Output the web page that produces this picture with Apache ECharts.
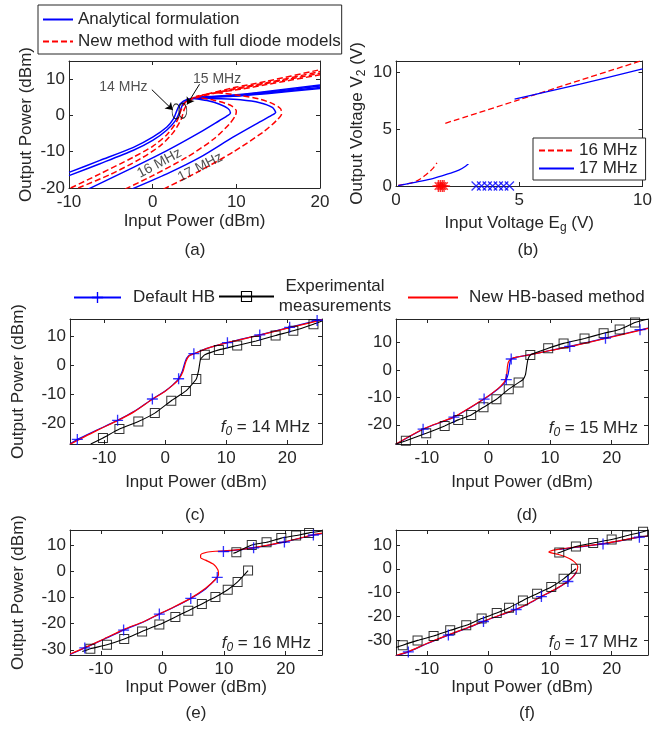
<!DOCTYPE html>
<html>
<head>
<meta charset="utf-8">
<script src="https://cdn.jsdelivr.net/npm/echarts@6/dist/echarts.min.js"></script>
<style>
  html, body { margin: 0; padding: 0; background: #fff; }
  #chart { width: 655px; height: 739px; }
</style>
</head>
<body>
<div id="chart"></div>
<script>
// ---------------- data ----------------
// (a) output vs input power, analytical formulation (solid) and full diode models (dashed)
const aAnalytic14 = [[-10,-15.7],[-6.3,-12.4],[-2.3,-8.8],[0,-6.0],[1.7,-3.2],[2.5,-0.9],[2.9,1.4],[3.3,3.2],[4.1,4.4],[5.7,4.9],[9.6,5.6],[13.6,6.6],[20,8.4]];
const aAnalytic15 = [[-10,-16.6],[-6.3,-13.3],[-2.3,-9.6],[0,-6.9],[1.7,-4.0],[2.7,-1.5],[3.2,0.8],[3.6,3.0],[4.3,4.3],[5.8,4.8],[9.6,5.4],[13.6,6.4],[20,8.1]];
const aAnalytic16 = [[-7.7,-20.3],[-2.3,-14.3],[1.7,-9.7],[5.7,-4.6],[8.0,-1.4],[9.0,0],[9.3,0.7],[9.0,1.9],[8.0,3.1],[6.5,4.1],[5.2,4.6],[4.9,4.8],[5.4,5.0],[7,5.2],[9.6,5.4],[13.6,6.2],[20,7.7]];
const aAnalytic17 = [[-2.5,-20.3],[1.7,-16.1],[5.7,-11.5],[9.6,-6.0],[12.8,-1.8],[14.2,0],[14.7,0.8],[14.3,2.2],[12.8,3.5],[10.5,4.3],[8,4.6],[5.5,4.75],[5.1,4.85],[5.6,5.0],[9.6,5.3],[13.6,6.0],[20,7.4]];
const aFull14 = [[-9.8,-20],[-6.3,-16.1],[-2.3,-11.5],[0,-8.5],[1.7,-5.3],[2.9,-1.6],[3.4,1.5],[3.9,3.6],[4.8,4.8],[6,5.6],[9.6,7.6],[13.6,9.4],[20,12.6]];
const aFull15 = [[-8.9,-20],[-5,-16.2],[-1.5,-12],[1,-8.2],[2.5,-4.6],[3.4,-1.1],[3.8,1.8],[4.4,3.9],[5.3,4.9],[6.5,5.6],[9.6,7.3],[13.6,9.0],[20,12.1]];
const aFull16 = [[-3.3,-20.3],[0,-16.6],[4.1,-11.5],[7.3,-6.5],[9.2,-2.3],[9.9,0],[10,1.2],[9.3,2.8],[7.3,4.2],[5.6,4.9],[5.2,5.2],[5.9,5.6],[9.6,7.1],[13.6,8.8],[20,11.6]];
const aFull17 = [[1.3,-20.3],[5.7,-15.2],[9.6,-10.1],[13.2,-4.6],[14.8,-1.4],[15.4,0.4],[15.3,1.8],[14.4,3.2],[12.8,4.5],[10.5,5.5],[8.5,6.1],[7.5,6.3],[8.5,6.6],[10.5,7.2],[13.6,8.5],[20,11.2]];
// annotation anchors in (a)
const aFreqText = [['14 MHz',-3.5,7.8,0],['15 MHz',7.7,9.9,0],['16 MHz',0.8,-13.2,28],['17 MHz',5.7,-14.3,27]];
const aArrows = [[[-0.1,7.1],[2.4,1.5]],[[5.6,8.6],[4.1,3.0]]];
const aRings = [[2.8,1.1],[3.6,1.3]];

// (b) output voltage vs input voltage (null = gap between branches)
const b16 = [[0.09,0.06],[0.49,0.21],[0.89,0.5],[1.22,1.0],[1.49,1.53],[1.66,2.04],null,[2.0,5.52],[4.95,7.56],[10,11.06]];
const b17 = [[0.09,0.03],[0.82,0.35],[1.49,0.65],[2.15,1.09],[2.55,1.39],[2.82,1.74],[2.95,1.98],null,[4.81,7.64],[7.47,8.97],[10,10.3]];
const b16Turn = [[1.72,0],[1.8,0],[1.88,0],[1.95,0]];
const b17Turn = [[3.25,0],[3.47,0],[3.7,0],[3.92,0],[4.15,0],[4.37,0],[4.6,0]];

// (c) f0 = 14 MHz
const hbC = [[-15.6,-27.2],[-14.4,-25.6],[-11,-22.2],[-7.8,-19.0],[-5,-15.8],[-2.1,-11.6],[0,-8.8],[1.2,-6.8],[2.2,-4.6],[2.8,-2.0],[3.3,1.5],[3.8,3.3],[4.7,4.1],[7,6.0],[10.2,7.9],[15.5,10.6],[20.4,13.2],[25.7,16.0]];
const hbMarkC = [[-14.4,-25.6],[-7.8,-19.0],[-2.1,-11.6],[2.2,-4.6],[4.7,4.1],[10.2,7.9],[15.5,10.6],[20.4,13.2],[24.9,15.6]];
const newC = [[-15.6,-27.3],[-11,-22.3],[-7.8,-19.1],[-5,-15.9],[-2.1,-11.7],[0,-8.9],[1.2,-6.9],[2.2,-4.9],[2.9,-2.2],[3.4,1.4],[3.9,3.3],[4.7,4.0],[7,6.0],[10.2,7.9],[15.5,10.5],[20.4,13.1],[25.7,15.8]];
const expC = [[-10.2,-25.1],[-7.5,-22.0],[-4.4,-19.4],[-1.7,-16.5],[1.0,-12.2],[3.4,-8.8],[5.1,-4.7],[6.5,3.7],[8.8,5.4],[11.8,6.9],[14.9,8.5],[18.1,10.4],[21.0,12.0],[24.3,14.3]];
const expLineC = [[-12.2,-27.2],[-10.2,-25.1],[-7.5,-22.0],[-4.4,-19.4],[-1.7,-16.5],[1.0,-12.2],[3.4,-8.8],[5.1,-4.7],[5.5,-1.5],[5.8,2.2],[6.5,3.7],[8.8,5.4],[11.8,6.9],[14.9,8.5],[18.1,10.4],[21.0,12.0],[24.3,14.3],[25.7,15.4]];

// (d) f0 = 15 MHz
const hbD = [[-15,-27.1],[-10.6,-21.6],[-5.6,-17.2],[-0.7,-10.6],[1.5,-7.0],[2.6,-4.8],[2.9,-3.5],[3.2,-1.5],[3.35,0.5],[3.5,2.8],[3.7,4.0],[4.6,4.7],[6.8,5.6],[10,7.1],[13.2,8.6],[19,11.6],[25.9,15.3]];
const hbMarkD = [[-15.1,-27],[-10.6,-21.6],[-5.6,-17.2],[-0.7,-10.6],[2.9,-3.5],[3.7,4.0],[13.2,8.6],[19,11.6],[24.6,14.7]];
const newD = [[-15,-27.0],[-10.6,-21.5],[-5.6,-17.1],[-0.7,-10.5],[1.5,-6.9],[2.5,-4.6],[2.8,-3.2],[3.0,-1.0],[3.1,1.5],[3.3,3.2],[3.8,4.2],[4.6,4.7],[6.8,5.6],[10,7.1],[13.2,8.5],[19,11.5],[25.9,15.2]];
const expD = [[-13.4,-25.8],[-10.1,-23.1],[-7.1,-20.4],[-4.9,-18.2],[-2.8,-16.4],[-0.8,-13.6],[1.3,-10.7],[3.3,-7.0],[4.9,-4.6],[6.8,5.5],[9.7,7.9],[12.2,9.7],[15.6,11.5],[18.7,13.4],[21.3,14.8],[23.8,17.3]];
const expLineD = [[-15.3,-27.2],[-13.4,-25.8],[-10.1,-23.1],[-7.1,-20.4],[-4.9,-18.2],[-2.8,-16.4],[-0.8,-13.6],[1.3,-10.7],[3.3,-7.0],[4.9,-4.6],[5.6,-3.5],[6.0,-1.8],[6.2,1.0],[6.4,3.8],[6.8,5.5],[9.7,7.9],[12.2,9.7],[15.6,11.5],[18.7,13.4],[21.3,14.8],[23.8,17.3],[25.9,18.6]];

// (e) f0 = 16 MHz
const hbE = [[-15,-31.8],[-12.6,-29.3],[-9.5,-26],[-6.3,-22.5],[-3,-19.3],[-0.5,-16.4],[2,-13.6],[4.6,-10.4],[7,-6.8],[8.9,-2.4],null,[9.9,7.5],[12,8.0],[14.8,8.9],[19.8,11.1],[24.5,13.8],[25.9,14.3]];
const hbMarkE = [[-12.6,-29.3],[-6.3,-22.5],[-0.5,-16.4],[4.6,-10.4],[8.9,-2.4],[9.9,7.5],[14.8,8.9],[19.8,11.1],[24.5,13.8]];
const newE = [[-15,-31.6],[-12.6,-29.2],[-9.5,-25.9],[-6.3,-22.3],[-3,-19.2],[-0.5,-16.3],[2,-13.5],[4.6,-10.3],[7,-6.5],[8.6,-3.2],[9.1,-1.2],[9.0,0.5],[8.3,2.6],[7.0,4.2],[6.2,5.1],[6.2,6.2],[7.2,7.2],[8.6,7.6],[9.9,7.7],[12,8.1],[14.8,9.0],[19.8,11.2],[24.5,13.9],[25.9,14.5]];
const expE = [[-11.7,-29.6],[-9.0,-28.1],[-6.2,-25.9],[-3.3,-23.0],[-0.5,-20.4],[2.1,-17.5],[4.2,-15.1],[6.4,-12.5],[8.6,-9.9],[10.6,-7.1],[12.2,-4.1],[13.9,0.2],[12.0,7.2],[14.5,10.0],[16.9,11.0],[19.3,12.6],[21.7,13.6],[23.8,14.6]];
const expLineE = [[-13,-30.7],[-11.7,-29.6],[-9.0,-28.1],[-6.2,-25.9],[-3.3,-23.0],[-0.5,-20.4],[2.1,-17.5],[4.2,-15.1],[6.4,-12.5],[8.6,-9.9],[10.6,-7.1],[12.2,-4.1],[13.9,0.2],null,[11.5,6.8],[12.0,7.2],[14.5,10.0],[16.9,11.0],[19.3,12.6],[21.7,13.6],[23.8,14.6],[25.9,15.3]];

// (f) f0 = 17 MHz
const hbF = [[-15,-36.3],[-13,-34.7],[-10,-31.3],[-6.5,-27.7],[-3.5,-24.8],[-0.8,-22.0],[2,-19.3],[4.5,-17.0],[6.6,-14.5],[8.6,-11.6],[10.8,-8.7],[12.9,-5.3],[13.8,-3.2],[14.3,-1.2],null,[11.5,8.1],[14,8.9],[18.6,10.4],[24.5,13.2],[25.9,13.7]];
const hbMarkF = [[-13,-34.7],[-6.5,-27.7],[-0.8,-22.0],[4.5,-17.0],[8.6,-11.6],[12.9,-5.3],[18.6,10.4],[24.5,13.2]];
const newF = [[-15,-36.2],[-13,-34.6],[-10,-31.2],[-6.5,-27.6],[-3.5,-24.7],[-0.8,-21.9],[2,-19.2],[4.5,-16.9],[6.6,-14.4],[8.6,-11.5],[10.8,-8.6],[12.9,-5.2],[14.0,-2.5],[14.5,0.8],[13.8,3.2],[12.5,5.0],[11,6.2],[9.8,7.0],[10.3,7.6],[11.8,8.3],[13.8,9.0],[18.6,10.5],[24.5,13.3],[25.9,13.8]];
const expF = [[-13.9,-31.9],[-11.5,-29.9],[-8.9,-28.1],[-6.2,-25.7],[-3.6,-23.6],[-1.1,-20.8],[1.35,-18.5],[3.35,-16.3],[5.6,-13.2],[7.9,-10.4],[10.2,-7.6],[12.2,-4.2],[14.2,0],[11.5,6.8],[14.2,9.3],[17.0,10.8],[20.0,12.2],[22.5,13.9],[25.1,15.5]];
const expLineF = [[-15,-32.9],[-13.9,-31.9],[-11.5,-29.9],[-8.9,-28.1],[-6.2,-25.7],[-3.6,-23.6],[-1.1,-20.8],[1.35,-18.5],[3.35,-16.3],[5.6,-13.2],[7.9,-10.4],[10.2,-7.6],[12.2,-4.2],[14.2,0],null,[11.2,6.5],[11.5,6.8],[14.2,9.3],[17.0,10.8],[20.0,12.2],[22.5,13.9],[25.1,15.5],[25.9,16.2]];

// tick values
const ticksPow = [-10, 0, 10, 20];
const ticksA_y = [-20, -10, 0, 10];
const ticksB_x = [0, 5, 10];
const ticksB_y = [0, 5, 10];
const ticksCD_y = [-20, -10, 0, 10];
const ticksEF_y = [-30, -20, -10, 0, 10];

// ---------------- styling ----------------
const FONT = '"Liberation Sans", Arial, Helvetica, sans-serif';
const INK = '#262626';
const FS = 17;
const BLUE = '#0000ff', RED = '#ff0000', BLACK = '#000000';
const PLUS = 'path://M4.4,0H5.6V4.4H10V5.6H5.6V10H4.4V5.6H0V4.4H4.4Z';
const SQUARE = 'path://M0,0H10V10H0Z M1,1V9H9V1Z';
const CROSS = 'path://M0,0.9L0.9,0L10,9.1L9.1,10Z M10,0.9L0.9,10L0,9.1L9.1,0Z';
const ASTER = 'path://M4.4,0H5.6V4.4H10V5.6H5.6V10H4.4V5.6H0V4.4H4.4Z M1.5,2.3L2.3,1.5L8.5,7.7L7.7,8.5Z M8.5,2.3L2.3,8.5L1.5,7.7L7.7,1.5Z';

const subRich = {
  t: { fontSize: FS, fontFamily: FONT, color: INK },
  s: { fontSize: 12, fontFamily: FONT, color: INK, verticalAlign: 'bottom', padding: [9, 0, 0, 0] },
  i: { fontSize: FS, fontFamily: FONT, color: INK, fontStyle: 'italic' },
  si: { fontSize: 12, fontFamily: FONT, color: INK, fontStyle: 'italic', verticalAlign: 'bottom', padding: [9, 0, 0, 0] }
};

const panels = [
  { grid: { left: 69, top: 61, width: 251, height: 127 }, x: [-10, 20], xt: ticksPow, y: [-20, 15], yt: ticksA_y,
    xname: 'Input Power (dBm)', xGap: 25, yname: 'Output Power (dBm)', yGap: 34 },
  { grid: { left: 396, top: 61, width: 251, height: 125 }, x: [0, 10], xt: ticksB_x, y: [0, 11], yt: ticksB_y,
    xname: '{t|Input Voltage E}{s|g}{t| (V)}', xGap: 27, yname: '{t|Output Voltage V}{s|2}{t| (V)}', yGap: 28 },
  { grid: { left: 70, top: 319, width: 252, height: 125 }, x: [-15.6, 25.7], xt: ticksPow, y: [-27.2, 16.1], yt: ticksCD_y,
    xname: 'Input Power (dBm)', xGap: 30, yname: 'Output Power (dBm)', yGap: 43 },
  { grid: { left: 396, top: 319, width: 252, height: 125 }, x: [-15, 25.9], xt: ticksPow, y: [-27, 18.6], yt: ticksCD_y,
    xname: 'Input Power (dBm)', xGap: 30, yname: '', yGap: 40 },
  { grid: { left: 70, top: 530, width: 252, height: 125 }, x: [-15, 25.9], xt: ticksPow, y: [-32, 15.7], yt: ticksEF_y,
    xname: 'Input Power (dBm)', xGap: 21, yname: 'Output Power (dBm)', yGap: 43 },
  { grid: { left: 396, top: 530, width: 252, height: 125 }, x: [-15, 25.9], xt: ticksPow, y: [-36, 16.2], yt: ticksEF_y,
    xname: 'Input Power (dBm)', xGap: 21, yname: '', yGap: 40 }
];

const grids = [], xAxes = [], yAxes = [];
const lineStyleAxis = { color: INK, width: 1 };
panels.forEach((p, i) => {
  grids.push(Object.assign({ containLabel: false }, p.grid));
  const xBase = { gridIndex: i, type: 'value', min: p.x[0], max: p.x[1], splitLine: { show: false },
    axisLine: { show: true, onZero: false, lineStyle: lineStyleAxis },
    axisTick: { show: true, inside: true, length: 4, customValues: p.xt, lineStyle: lineStyleAxis } };
  xAxes.push(Object.assign({}, xBase, {
    position: 'bottom',
    axisLabel: { show: true, customValues: p.xt, margin: 6, color: INK, fontSize: FS, fontFamily: FONT },
    name: p.xname, nameLocation: 'middle', nameGap: p.xGap,
    nameTextStyle: { color: INK, fontSize: FS, fontFamily: FONT, rich: subRich }
  }));
  xAxes.push(Object.assign({}, xBase, { position: 'top', axisLabel: { show: false } }));
  const yBase = { gridIndex: i, type: 'value', min: p.y[0], max: p.y[1], splitLine: { show: false },
    axisLine: { show: true, onZero: false, lineStyle: lineStyleAxis },
    axisTick: { show: true, inside: true, length: 4, customValues: p.yt, lineStyle: lineStyleAxis } };
  yAxes.push(Object.assign({}, yBase, {
    position: 'left',
    axisLabel: { show: true, customValues: p.yt, margin: 4, color: INK, fontSize: FS, fontFamily: FONT },
    name: p.yname, nameLocation: 'middle', nameGap: p.yGap,
    nameTextStyle: { color: INK, fontSize: FS, fontFamily: FONT, rich: subRich }
  }));
  yAxes.push(Object.assign({}, yBase, { position: 'right', axisLabel: { show: false } }));
});

// ---------------- series ----------------
const series = [];
function addLine(g, name, pts, color, width, dash, extra) {
  let seg = [];
  const flush = () => {
    if (!seg.length) return;
    series.push(Object.assign({
      type: 'line', name: name, data: seg, xAxisIndex: 2 * g, yAxisIndex: 2 * g,
      showSymbol: false, symbol: 'none', smooth: 0.25, clip: true,
      lineStyle: { color: color, width: width, type: dash || 'solid' },
      itemStyle: { color: color }, emphasis: { disabled: true }, animation: false, silent: true, z: 2
    }, extra || {}));
    seg = [];
  };
  pts.forEach(pt => (pt ? seg.push(pt) : flush()));
  flush();
}
function addMarks(g, name, pts, symbol, size, color, z) {
  series.push({
    type: 'scatter', name: name, data: pts, xAxisIndex: 2 * g, yAxisIndex: 2 * g,
    symbol: symbol, symbolSize: size, itemStyle: { color: color },
    emphasis: { disabled: true }, animation: false, silent: true, z: z || 4
  });
}

// (a)
[aAnalytic14, aAnalytic15, aAnalytic16, aAnalytic17].forEach(d => addLine(0, 'Analytical formulation', d, BLUE, 1.5));
[aFull14, aFull15, aFull16, aFull17].forEach(d => addLine(0, 'New method with full diode models', d, RED, 1.5, [6, 3]));
series.push({
  type: 'scatter', name: 'frequency labels', xAxisIndex: 0, yAxisIndex: 0, symbolSize: 0, silent: true, animation: false, z: 6,
  data: aFreqText.map(t => ({ value: [t[1], t[2]], label: { formatter: t[0], rotate: t[3] } })),
  label: { show: true, position: 'inside', color: INK, fontSize: 14, fontFamily: FONT }
});
series.push({
  type: 'lines', coordinateSystem: 'cartesian2d', name: 'label arrows', xAxisIndex: 0, yAxisIndex: 0,
  symbol: ['none', 'arrow'], symbolSize: 7, silent: true, animation: false, z: 6,
  lineStyle: { color: BLACK, width: 1, opacity: 1, curveness: 0 },
  data: aArrows.map(c => ({ coords: c }))
});
series.push({
  type: 'scatter', name: 'fold rings', xAxisIndex: 0, yAxisIndex: 0, symbol: 'circle', symbolSize: [8, 15],
  silent: true, animation: false, z: 6,
  itemStyle: { color: 'rgba(0,0,0,0)', borderColor: BLACK, borderWidth: 1 },
  data: aRings
});

// (b)
addLine(1, '16 MHz', b16, RED, 1.3, [6, 3], { smooth: 0.3 });
addLine(1, '17 MHz', b17, BLUE, 1.3, 'solid', { smooth: 0.3 });
addMarks(1, '16 MHz turning points', b16Turn, ASTER, 12, RED);
addMarks(1, '17 MHz turning points', b17Turn, CROSS, 10, BLUE);

// (c)-(f)
const lower = [
  [2, hbC, hbMarkC, newC, expC, expLineC],
  [3, hbD, hbMarkD, newD, expD, expLineD],
  [4, hbE, hbMarkE, newE, expE, expLineE],
  [5, hbF, hbMarkF, newF, expF, expLineF]
];
lower.forEach(([g, hb, hbMark, nw, ex, exLine]) => {
  addLine(g, 'Default HB', hb, BLUE, 1.2, 'solid', { symbol: PLUS, z: 2 });
  addLine(g, 'New HB-based method', nw, RED, 1.2, 'solid', { z: 3 });
  addLine(g, 'Experimental measurements', exLine, BLACK, 1.1, 'solid', { symbol: SQUARE, smooth: 0.15, z: 3 });
  addMarks(g, 'Default HB samples', hbMark, PLUS, 11, BLUE, 5);
  addMarks(g, 'Measured samples', ex, SQUARE, 10, BLACK, 4);
});

// ---------------- legends ----------------
const legendText = { color: INK, fontSize: FS, fontFamily: FONT };
const hideIcon = { opacity: 0 };
const legends = [
  { orient: 'vertical', left: 38, top: 5, padding: [6, 1, 4, 4], itemGap: 5, itemWidth: 30, itemHeight: 14,
    borderColor: INK, borderWidth: 1, backgroundColor: '#fff', textStyle: legendText, selectedMode: false,
    data: [{ name: 'Analytical formulation', itemStyle: hideIcon }, { name: 'New method with full diode models', itemStyle: hideIcon }] },
  { orient: 'vertical', left: 533, top: 138, padding: [4, 8, 3, 5], itemGap: 1, itemWidth: 35, itemHeight: 14,
    borderColor: INK, borderWidth: 1, backgroundColor: '#fff', textStyle: legendText, selectedMode: false,
    data: [{ name: '16 MHz', itemStyle: hideIcon }, { name: '17 MHz', itemStyle: hideIcon }] },
  { left: 73, top: 289, padding: 0, itemWidth: 47, itemHeight: 14, selectedMode: false,
    textStyle: Object.assign({ padding: [0, 0, 0, 7] }, legendText),
    data: ['Default HB'] },
  { left: 218, top: 278, padding: 0, itemWidth: 55, itemHeight: 14, selectedMode: false,
    textStyle: Object.assign({ rich: { c: { width: 112, align: 'center', fontSize: FS, fontFamily: FONT, color: INK, lineHeight: 20 } } }, legendText),
    formatter: () => '{c|Experimental}\n{c|measurements}',
    data: ['Experimental measurements'] },
  { left: 407, top: 289, padding: 0, itemWidth: 50, itemHeight: 14, selectedMode: false,
    textStyle: Object.assign({ padding: [0, 0, 0, 6] }, legendText),
    data: [{ name: 'New HB-based method', itemStyle: hideIcon }] }
];

// ---------------- panel captions ----------------
function caption(txt, x, y) {
  return { type: 'text', x: x, y: y, silent: true,
    style: { text: txt, fontSize: FS, fontFamily: FONT, fill: INK, align: 'center', verticalAlign: 'middle' } };
}
function freqTag(mhz, x, y) {
  return { type: 'text', x: x, y: y, silent: true,
    style: { text: '{i|f}{si|0}{t| = ' + mhz + ' MHz}', rich: subRich, fill: INK, align: 'right', verticalAlign: 'middle' } };
}
const graphics = [
  caption('(a)', 195, 250), caption('(b)', 528, 250),
  caption('(c)', 195, 515), caption('(d)', 527, 515),
  caption('(e)', 196, 713), caption('(f)', 527, 713),
  freqTag(14, 310, 427), freqTag(15, 638, 428),
  freqTag(16, 311, 643), freqTag(17, 638, 642)
];

const chart = echarts.init(document.getElementById('chart'), null, { renderer: 'canvas' });
chart.setOption({
  animation: false,
  backgroundColor: '#fff',
  textStyle: { fontFamily: FONT },
  grid: grids,
  xAxis: xAxes,
  yAxis: yAxes,
  legend: legends,
  series: series,
  graphic: graphics
});
</script>
</body>
</html>
